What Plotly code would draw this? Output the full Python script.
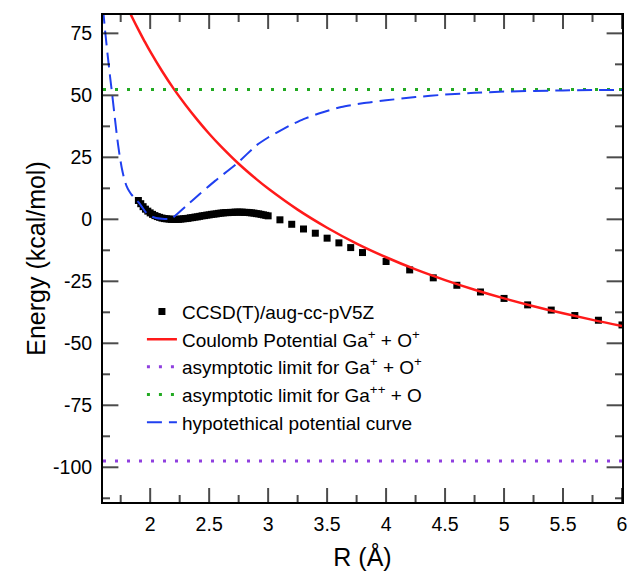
import plotly.graph_objects as go

# ---- data ----
# CCSD(T)/aug-cc-pV5Z points (dense part)
ccsd_r_dense = [1.90, 1.92, 1.94, 1.96, 1.98, 2.00, 2.02, 2.04, 2.06, 2.08,
                2.10, 2.12, 2.14, 2.16, 2.18, 2.20, 2.22, 2.24, 2.26, 2.28,
                2.30, 2.32, 2.34, 2.36, 2.38, 2.40, 2.42, 2.44, 2.46, 2.48,
                2.50, 2.52, 2.54, 2.56, 2.58, 2.60, 2.62, 2.64, 2.66, 2.68,
                2.70, 2.72, 2.74, 2.76, 2.78, 2.80, 2.82, 2.84, 2.86, 2.88,
                2.90, 2.92, 2.94, 2.96, 2.98, 3.00]
ccsd_e_dense = [7.6, 6.3, 5.1, 4.1, 3.3, 2.6, 2.0, 1.5, 1.1, 0.8,
                0.5, 0.3, 0.2, 0.1, 0.0, 0.0, 0.0, 0.0, 0.1, 0.2,
                0.3, 0.4, 0.6, 0.7, 0.9, 1.0, 1.2, 1.4, 1.5, 1.7,
                1.8, 2.0, 2.1, 2.2, 2.4, 2.5, 2.6, 2.7, 2.7, 2.8,
                2.8, 2.9, 2.9, 2.9, 2.9, 2.8, 2.8, 2.7, 2.6, 2.5,
                2.3, 2.2, 2.0, 1.8, 1.6, 1.4]
# CCSD(T) points (sparse part)
ccsd_r_sparse = [3.1, 3.2, 3.3, 3.4, 3.5, 3.6, 3.7, 3.8, 4.0, 4.2, 4.4,
                 4.6, 4.8, 5.0, 5.2, 5.4, 5.6, 5.8, 6.0]
ccsd_e_sparse = [-0.2, -2.0, -3.9, -5.6, -7.6, -9.5, -11.4, -13.4, -17.0,
                 -20.4, -23.6, -26.6, -29.3, -31.9, -34.5, -36.6, -38.8,
                 -40.7, -42.6]

# Coulomb potential Ga+ + O+
coul_r = [1.80, 1.85, 1.90, 1.95, 2.00, 2.10, 2.20, 2.30, 2.40, 2.50, 2.60,
          2.75, 2.90, 3.00, 3.25, 3.50, 3.75, 4.00, 4.25, 4.50, 4.75, 5.00,
          5.25, 5.50, 5.75, 6.00]
coul_e = [86.2, 81.2, 76.5, 72.0, 67.7, 59.8, 52.6, 46.1, 40.1, 34.5, 29.4,
          22.4, 16.2, 12.4, 3.9, -3.4, -9.8, -15.3, -20.2, -24.5, -28.4, -31.9,
          -35.05, -37.9, -40.55, -43.0]

# hypothetical potential curve
hyp_r = [1.60, 1.62, 1.64, 1.66, 1.68, 1.70, 1.72, 1.74, 1.76, 1.78, 1.80,
         1.82, 1.84, 1.86, 1.88, 1.90, 1.93, 1.96, 2.00, 2.05, 2.10, 2.15,
         2.18, 2.30, 2.42, 2.55, 2.74, 2.90, 3.00, 3.10, 3.20, 3.30, 3.45,
         3.62, 3.80, 4.00, 4.25, 4.50, 4.75, 5.00, 5.50, 6.00]
hyp_e = [85.0, 75.0, 66.0, 57.5, 49.5, 41.0, 33.0, 26.0, 20.5, 16.3, 13.4,
         11.5, 10.1, 9.0, 7.9, 6.9, 5.0, 3.0, 1.4, 0.5, 0.2, 0.1,
         0.3, 5.2, 10.2, 15.5, 22.7, 29.8, 33.0, 35.7, 38.2, 40.4, 43.0,
         45.3, 46.8, 48.0, 49.3, 50.3, 51.0, 51.5, 52.0, 52.2]

# asymptotic limits
lim_r = [1.6, 6.0]
lim_ga_o_plus = [-97.5, -97.5]     # Ga+ + O+
lim_ga2_o = [52.4, 52.4]           # Ga++ + O

x_range = [1.6, 6.0]
y_range = [-114, 82.4]
x_ticks = [2, 2.5, 3, 3.5, 4, 4.5, 5, 5.5, 6]
x_ticklabels = ["2", "2.5", "3", "3.5", "4", "4.5", "5", "5.5", "6"]
x_minor_ticks = [1.75, 2.25, 2.75, 3.25, 3.75, 4.25, 4.75, 5.25, 5.75]
y_ticks = [-100, -75, -50, -25, 0, 25, 50, 75]
y_ticklabels = ["-100", "-75", "-50", "-25", "0", "25", "50", "75"]
y_minor_ticks = [-112.5, -87.5, -62.5, -37.5, -12.5, 12.5, 37.5, 62.5]

FONT = "Liberation Sans, Arial, Helvetica, sans-serif"

fig = go.Figure()

fig.add_trace(go.Scatter(
    x=ccsd_r_dense + ccsd_r_sparse, y=ccsd_e_dense + ccsd_e_sparse,
    mode="markers", name="CCSD(T)/aug-cc-pV5Z",
    marker=dict(symbol="square", size=7, color="black", line=dict(width=0)),
))
fig.add_trace(go.Scatter(
    x=coul_r, y=coul_e, mode="lines", line_shape="spline",
    name="Coulomb Potential Ga<sup>+</sup> + O<sup>+</sup>",
    line=dict(color="#ff1a1a", width=2.5),
))
fig.add_trace(go.Scatter(
    x=lim_r, y=lim_ga_o_plus, mode="lines",
    name="asymptotic limit for Ga<sup>+</sup> + O<sup>+</sup>",
    line=dict(color="#8f3fdf", width=3, dash="3px,9px"),
))
fig.add_trace(go.Scatter(
    x=lim_r, y=lim_ga2_o, mode="lines",
    name="asymptotic limit for Ga<sup>++</sup> + O",
    line=dict(color="#22aa22", width=3, dash="3px,9px"),
))
fig.add_trace(go.Scatter(
    x=hyp_r, y=hyp_e, mode="lines", line_shape="spline",
    line=dict(color="#2040f0", width=2, dash="15px,7px", smoothing=0.6),
    name="hypotethical potential curve",
))

# inside tick marks on all four sides, drawn as clipped line markers
xt = x_ticks + x_minor_ticks
xt_size = [20] * len(x_ticks) + [10] * len(x_minor_ticks)
yt = y_ticks + y_minor_ticks
yt_size = [22] * len(y_ticks) + [10] * len(y_minor_ticks)
for yedge in y_range:
    fig.add_trace(go.Scatter(
        x=xt, y=[yedge] * len(xt), mode="markers", showlegend=False,
        hoverinfo="skip", cliponaxis=True,
        marker=dict(symbol="line-ns", size=xt_size, color="black",
                    line=dict(color="black", width=2)),
    ))
for xedge in x_range:
    fig.add_trace(go.Scatter(
        x=[xedge] * len(yt), y=yt, mode="markers", showlegend=False,
        hoverinfo="skip", cliponaxis=True,
        marker=dict(symbol="line-ew", size=yt_size, color="black",
                    line=dict(color="black", width=2)),
    ))

fig.update_layout(
    width=635, height=579,
    margin=dict(l=103, r=8, t=15, b=77),
    paper_bgcolor="white", plot_bgcolor="white",
    font=dict(family=FONT, color="black"),
    xaxis=dict(
        range=x_range, tickmode="array", tickvals=x_ticks, ticktext=x_ticklabels,
        showline=True, linecolor="black", linewidth=2, mirror=True,
        ticks="", showgrid=False, zeroline=False,
        tickfont=dict(family=FONT, size=19.5, color="black"),
        title=dict(text="R (Å)", font=dict(family=FONT, size=25), standoff=14),
        ticklabelstandoff=4,
    ),
    yaxis=dict(
        range=y_range, tickmode="array", tickvals=y_ticks, ticktext=y_ticklabels,
        showline=True, linecolor="black", linewidth=2, mirror=True,
        ticks="", showgrid=False, zeroline=False,
        tickfont=dict(family=FONT, size=19.5, color="black"),
        title=dict(text="Energy (kcal/mol)", font=dict(family=FONT, size=25),
                   standoff=0),
        ticklabelstandoff=5,
    ),
    legend=dict(
        x=0.075, y=0.43, xanchor="left", yanchor="top",
        bgcolor="rgba(0,0,0,0)", borderwidth=0,
        font=dict(family=FONT, size=19, color="black"),
        tracegroupgap=0,
    ),
    showlegend=True,
)

fig.write_html("out.html")
